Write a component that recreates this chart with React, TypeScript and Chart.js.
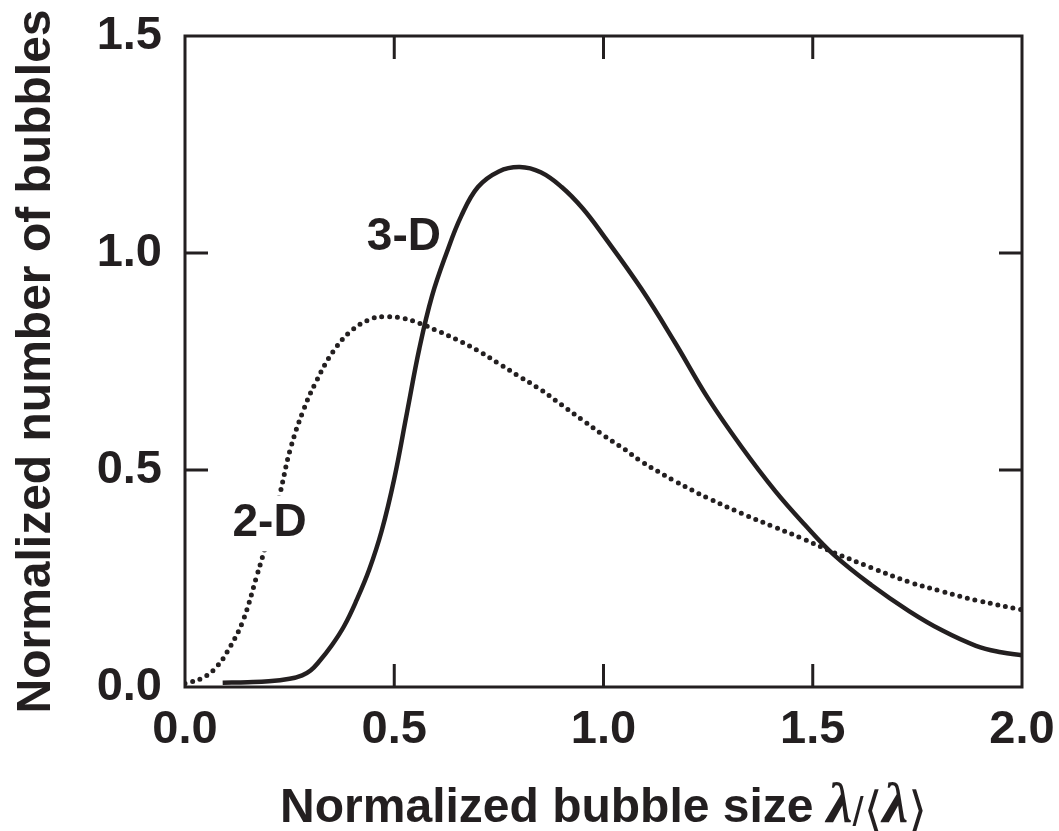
import React, { useEffect, useRef } from "react";
import { Chart, registerables } from "chart.js";

Chart.register(...registerables);

// 3-D distribution (solid)
const x3D = [0.09, 0.15, 0.20, 0.25, 0.28, 0.30, 0.32, 0.35, 0.38, 0.41, 0.44, 0.47, 0.50, 0.53, 0.56, 0.59, 0.625, 0.66, 0.70, 0.75, 0.80, 0.85, 0.90, 0.95, 1.00, 1.09, 1.17, 1.25, 1.33, 1.41, 1.48, 1.55, 1.64, 1.73, 1.81, 1.89, 1.95, 2.00];
const y3D = [0.010, 0.011, 0.013, 0.019, 0.027, 0.038, 0.058, 0.095, 0.140, 0.200, 0.270, 0.360, 0.480, 0.630, 0.780, 0.900, 1.000, 1.085, 1.152, 1.188, 1.198, 1.186, 1.152, 1.103, 1.040, 0.918, 0.795, 0.665, 0.553, 0.452, 0.375, 0.305, 0.235, 0.175, 0.130, 0.095, 0.080, 0.073];

// 2-D distribution (dotted)
const x2D = [0.00, 0.04, 0.076, 0.108, 0.139, 0.171, 0.20, 0.227, 0.251, 0.283, 0.315, 0.354, 0.40, 0.45, 0.48, 0.52, 0.56, 0.60, 0.65, 0.70, 0.75, 0.80, 0.85, 0.90, 0.95, 1.00, 1.05, 1.09, 1.17, 1.25, 1.33, 1.41, 1.48, 1.55, 1.64, 1.73, 1.81, 1.89, 2.00];
const y2D = [0.008, 0.020, 0.047, 0.093, 0.154, 0.254, 0.350, 0.446, 0.546, 0.638, 0.707, 0.773, 0.823, 0.850, 0.853, 0.850, 0.838, 0.822, 0.800, 0.775, 0.745, 0.715, 0.685, 0.650, 0.615, 0.580, 0.548, 0.520, 0.475, 0.435, 0.400, 0.368, 0.340, 0.310, 0.275, 0.242, 0.220, 0.200, 0.178];

const xTickValues = [0.5, 1.0, 1.5];
const yTickValues = [0.5, 1.0];

const seriesLabels = ["3-D", "2-D"];
const yTitle = "Normalized number of bubbles";
const xTitleText = "Normalized bubble size";

const INK = "#231f20";
const SANS = "'Liberation Sans', Arial, Helvetica, sans-serif";
const SERIF_LAMBDA = "italic bold 58px 'Liberation Serif', 'Times New Roman', serif";

const framePlugin = {
  id: "frame",
  afterDatasetsDraw(chart: any) {
    const ctx = chart.ctx;
    const xs = chart.scales.x;
    const ys = chart.scales.y;
    ctx.save();
    ctx.font = `bold 46px ${SANS}`;
    ctx.textAlign = "center";
    ctx.textBaseline = "middle";
    // 2-D label with white background
    const lx2 = xs.getPixelForValue(0.202);
    const ly2 = ys.getPixelForValue(0.377);
    const w2 = ctx.measureText(seriesLabels[1]).width;
    ctx.fillStyle = "#ffffff";
    ctx.fillRect(lx2 - w2 / 2 - 4, ly2 - 28, w2 + 8, 56);
    ctx.fillStyle = INK;
    ctx.fillText(seriesLabels[1], lx2, ly2);
    // 3-D label
    const lx3 = xs.getPixelForValue(0.523);
    const ly3 = ys.getPixelForValue(1.036);
    ctx.fillText(seriesLabels[0], lx3, ly3);
    ctx.restore();
  },
  afterDraw(chart: any) {
    const ctx = chart.ctx;
    const { left, right, top, bottom } = chart.chartArea;
    const xs = chart.scales.x;
    const ys = chart.scales.y;
    ctx.save();
    ctx.strokeStyle = INK;
    ctx.lineWidth = 3;
    ctx.strokeRect(left, top, right - left, bottom - top);
    const tl = 23;
    ctx.beginPath();
    xTickValues.forEach((v) => {
      const px = xs.getPixelForValue(v);
      ctx.moveTo(px, bottom);
      ctx.lineTo(px, bottom - tl);
      ctx.moveTo(px, top);
      ctx.lineTo(px, top + tl);
    });
    yTickValues.forEach((v) => {
      const py = ys.getPixelForValue(v);
      ctx.moveTo(left, py);
      ctx.lineTo(left + tl, py);
      ctx.moveTo(right, py);
      ctx.lineTo(right - tl, py);
    });
    ctx.stroke();

    // x-axis title with mixed fonts
    const baseY = 822;
    const segs = [
      { t: xTitleText + " ", f: `bold 48px ${SANS}`, dy: 0 },
      { t: "\u03BB", f: SERIF_LAMBDA, dy: 0 },
      { t: "/", f: `normal 40px ${SANS}`, dy: 4 },
      { t: "\u27E8", f: "normal 48px 'DejaVu Sans', sans-serif", dy: 4 },
      { t: "\u03BB", f: SERIF_LAMBDA, dy: 0 },
      { t: "\u27E9", f: "normal 48px 'DejaVu Sans', sans-serif", dy: 4 },
    ];
    let total = 0;
    const widths = segs.map((s) => {
      ctx.font = s.f;
      const w = ctx.measureText(s.t).width;
      total += w;
      return w;
    });
    let cx = (left + right) / 2 - total / 2;
    ctx.fillStyle = INK;
    ctx.textAlign = "left";
    ctx.textBaseline = "alphabetic";
    segs.forEach((s, i) => {
      ctx.font = s.f;
      ctx.fillText(s.t, cx, baseY + s.dy);
      cx += widths[i];
    });
    ctx.restore();
  },
};

export default function App() {
  const canvasRef = useRef<HTMLCanvasElement | null>(null);

  useEffect(() => {
    if (!canvasRef.current) return;
    const chart = new Chart(canvasRef.current, {
      type: "line",
      data: {
        datasets: [
          {
            label: seriesLabels[0],
            data: x3D.map((x, i) => ({ x, y: y3D[i] })),
            borderColor: INK,
            borderWidth: 4.5,
            pointRadius: 0,
            tension: 0.4,
            fill: false,
          },
          {
            label: seriesLabels[1],
            data: x2D.map((x, i) => ({ x, y: y2D[i] })),
            borderColor: INK,
            borderWidth: 5,
            borderDash: [0, 7.8],
            borderCapStyle: "round",
            pointRadius: 0,
            tension: 0.4,
            fill: false,
          },
        ],
      },
      options: {
        animation: false,
        responsive: true,
        maintainAspectRatio: false,
        layout: { padding: { top: 36, right: 37, left: 0, bottom: 0 } },
        plugins: {
          legend: { display: false },
          tooltip: { enabled: false },
        },
        scales: {
          x: {
            type: "linear",
            min: 0,
            max: 2,
            grid: { display: false, drawTicks: false },
            border: { display: false },
            ticks: {
              stepSize: 0.5,
              padding: 15,
              color: INK,
              font: { family: SANS, size: 47, weight: "bold" },
              callback: (v: any) => Number(v).toFixed(1),
              maxRotation: 0,
            },
            afterFit: (s: any) => {
              s.height = 144;
              s.paddingLeft = 0;
              s.paddingRight = 0;
              s.paddingTop = 0;
              s.paddingBottom = 0;
            },
          },
          y: {
            type: "linear",
            min: 0,
            max: 1.5,
            grid: { display: false, drawTicks: false },
            border: { display: false },
            ticks: {
              stepSize: 0.5,
              padding: 23,
              color: INK,
              font: { family: SANS, size: 47, weight: "bold" },
              callback: (v: any) => Number(v).toFixed(1),
            },
            title: {
              display: true,
              text: yTitle,
              color: INK,
              font: { family: SANS, size: 48, weight: "bold" },
              padding: { top: 8, bottom: 0 },
            },
            afterFit: (s: any) => {
              s.width = 185;
              s.paddingLeft = 0;
              s.paddingRight = 0;
              s.paddingTop = 0;
              s.paddingBottom = 0;
            },
          },
        },
      },
      plugins: [framePlugin],
    } as any);
    return () => chart.destroy();
  }, []);

  return (
    <div style={{ position: "fixed", left: 0, top: 0, width: 1059, height: 831, background: "#ffffff" }}>
      <canvas ref={canvasRef} />
    </div>
  );
}
